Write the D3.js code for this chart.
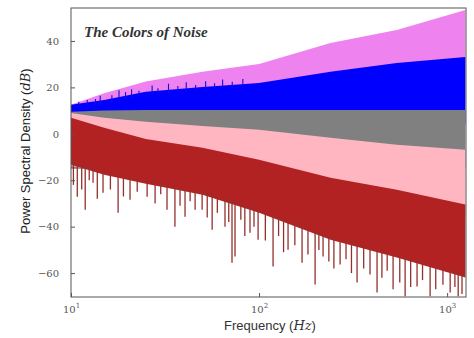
<!DOCTYPE html>
<html>
<head>
<meta charset="utf-8">
<script src="https://cdn.jsdelivr.net/npm/d3@7"></script>
<style>
  body { margin: 0; background: #fff; }
  svg { display: block; }
</style>
</head>
<body>
<svg width="474" height="338"></svg>
<script>
const freqs = [10, 15, 25, 50, 100, 240, 540, 1250];

// band edges in dB (bottom layer first)
const violetTop = [12.5, 17.5, 22.5, 26.7, 30.1, 39.1, 44.7, 53.3];
const violetBottom = [-8, -6, -4, -2, 0, 4, 8, 12];
const blueTop = [12.5, 14.6, 18.1, 20.2, 21.9, 26.7, 30.5, 33.1];
const blueBottom = [-8, -8, -6, -4, -2, 0, 2, 4];
const whiteTop = [9.5, 10, 10.3, 10.3, 10.3, 10.3, 10.3, 10.3];
const whiteBottom = [-15, -15, -15, -15, -15, -15, -15, -15];
const pinkTop = [9, 6.9, 5.2, 3.4, 1.7, -1.7, -4.7, -6.9];
const pinkBottom = [-14, -16, -18, -20, -22, -26, -30, -36];
const brownTop = [6.9, 2.6, -2.2, -6.0, -11.2, -18.9, -24.1, -30.5];
const brownBottom = [-13.3, -17.6, -21.5, -26.2, -34, -45.6, -53.3, -61.9];

// peaks of the blue spectrum poking above its band: frequency (Hz), level (dB)
const bluePeakFreq = [11, 12.2, 13.5, 14.3, 16.5, 18, 19.5, 21, 23, 27, 29, 33, 37, 41, 46, 52, 58, 64, 72, 82];
const bluePeakDb = [13.8, 14.6, 15, 16.4, 16.6, 18.8, 18, 19.2, 18.6, 20.8, 19.6, 21.6, 20.6, 22.2, 21, 22.6, 21.8, 23.4, 22.4, 23.6];

// deep dips of the brown spectrum: frequency (Hz) and level (dB)
const brownDipFreq = [10.3, 10.8, 11.4, 11.9, 12.5, 13.1, 13.8, 14.8, 16.2, 17.8, 19, 20.6, 22.5, 25.4, 28, 30,
  32.4, 35.7, 38, 40.4, 43, 45.7, 49.8, 53, 56.3, 60, 65.9, 69, 71.8, 74.5, 80, 84, 89.5, 94, 98.8, 108,
  118.7, 127, 135, 142.6, 155, 169.3, 182, 198.6, 208, 218.9, 235, 250, 269.7, 290, 310, 332, 360, 389,
  424, 450, 480, 516, 560, 598, 640, 692, 740, 812, 870, 950, 1038, 1100, 1145, 1200];
const brownDipDb = [-22, -27.1, -24, -32.7, -20, -21.1, -28, -25.4, -24, -34, -27, -28.4, -25, -27.1, -30, -26,
  -32.7, -40, -31, -35.7, -29, -32.7, -32.7, -36, -41.3, -34, -40, -38, -55.5, -52.9, -37, -44, -42.6, -40, -45.6, -46,
  -57.2, -44, -51, -49.9, -48, -55.5, -52, -64.9, -50, -52.9, -55, -58, -56.3, -54, -60, -64.1, -58, -60.6,
  -68.4, -62, -59, -67, -64, -70, -66, -65.8, -63, -70, -67, -65, -68.4, -66, -70, -69];

const yTicks = [40, 20, 0, -20, -40, -60];
const xTicks = [10, 100, 1000];

const svg = d3.select("svg");
const margin = {left: 71, right: 8, top: 8, bottom: 41};
const W = 474, H = 338;

const x = d3.scaleLog().domain([10, 1260]).range([margin.left, W - margin.right]);
const y = d3.scaleLinear().domain([-70.3, 54.2]).range([H - margin.bottom, margin.top]);

svg.append("clipPath").attr("id", "plot")
  .append("rect")
  .attr("x", margin.left).attr("y", margin.top)
  .attr("width", W - margin.left - margin.right)
  .attr("height", H - margin.top - margin.bottom);

const g = svg.append("g").attr("clip-path", "url(#plot)");

const bands = [
  {top: violetTop, bottom: violetBottom, color: "#ee82ee"},
  {top: blueTop, bottom: blueBottom, color: "#0000ff"},
  {top: whiteTop, bottom: whiteBottom, color: "#808080"},
  {top: pinkTop, bottom: pinkBottom, color: "#ffb6c1"},
  {top: brownTop, bottom: brownBottom, color: "#b22222"}
];

const area = d3.area()
  .x(d => x(d.f))
  .y0(d => y(d.lo))
  .y1(d => y(d.hi));

bands.forEach((b, k) => {
  const rows = freqs.map((f, i) => ({f: f, hi: b.top[i], lo: b.bottom[i]}));
  g.append("path")
    .datum(rows)
    .attr("d", area)
    .attr("fill", b.color);

  // blue peaks sit right after the blue band so the grey still covers them
  if (k === 1) {
    const blueEdge = d3.scaleLog().domain(freqs).range(blueTop);
    g.selectAll("line.peak")
      .data(bluePeakFreq.map((f, i) => ({f: f, db: bluePeakDb[i]})))
      .enter()
      .append("line")
      .attr("class", "peak")
      .attr("x1", d => x(d.f))
      .attr("x2", d => x(d.f))
      .attr("y1", d => y(blueEdge(d.f)) + 3)
      .attr("y2", d => y(d.db))
      .attr("stroke", "#1010e0")
      .attr("stroke-width", 1.1);
  }
});

// brown dips as thin vertical strokes below the dense band
const brownEdge = d3.scaleLog().domain(freqs).range(brownBottom);
g.selectAll("line.dip")
  .data(brownDipFreq.map((f, i) => ({f: f, db: brownDipDb[i]})))
  .enter()
  .append("line")
  .attr("class", "dip")
  .attr("x1", d => x(d.f))
  .attr("x2", d => x(d.f))
  .attr("y1", d => y(brownEdge(d.f)) - 4)
  .attr("y2", d => y(d.db))
  .attr("stroke", "#93302e")
  .attr("stroke-width", 1.3);

// frame
svg.append("rect")
  .attr("x", margin.left).attr("y", margin.top)
  .attr("width", W - margin.left - margin.right)
  .attr("height", H - margin.top - margin.bottom)
  .attr("fill", "none")
  .attr("stroke", "#555")
  .attr("stroke-width", 1);

// y ticks
const yAxis = d3.axisLeft(y).tickValues(yTicks).tickSize(-4).tickPadding(12)
  .tickFormat(d => d < 0 ? "\u2212" + Math.abs(d) : d);
const ya = svg.append("g").attr("transform", `translate(${margin.left},0)`).call(yAxis);
ya.select(".domain").remove();
ya.selectAll("line").attr("stroke", "#555");
ya.selectAll("text").attr("font-family", "'DejaVu Serif', serif").attr("font-size", 10).attr("fill", "#555");

// x ticks with powers of ten
const xAxis = d3.axisBottom(x).tickValues(xTicks).tickSize(-4).tickPadding(6).tickFormat("");
const xa = svg.append("g").attr("transform", `translate(0,${H - margin.bottom})`).call(xAxis);
xa.select(".domain").remove();
xa.selectAll("line").attr("stroke", "#555");
xa.selectAll(".tick").append("text")
  .attr("y", 16)
  .attr("text-anchor", "middle")
  .attr("font-family", "'DejaVu Serif', serif")
  .attr("font-size", 10)
  .attr("fill", "#555")
  .each(function(d) {
    const t = d3.select(this);
    t.append("tspan").text("10");
    t.append("tspan").attr("dy", -5).attr("font-size", 7).text(Math.round(Math.log10(d)));
  });

// axis labels
const xl = svg.append("text")
  .attr("x", 270).attr("y", 330)
  .attr("text-anchor", "middle")
  .attr("font-family", "'Liberation Sans', Arial, sans-serif")
  .attr("font-size", 13)
  .attr("fill", "#333");
xl.append("tspan").text("Frequency (");
xl.append("tspan").attr("font-family", "'DejaVu Serif', serif").attr("font-style", "italic").text("Hz");
xl.append("tspan").text(")");

const yl = svg.append("text")
  .attr("transform", "translate(30,151) rotate(-90)")
  .attr("text-anchor", "middle")
  .attr("font-family", "'Liberation Sans', Arial, sans-serif")
  .attr("font-size", 13)
  .attr("fill", "#222");
yl.append("tspan").text("Power Spectral Density (");
yl.append("tspan").attr("font-family", "'DejaVu Serif', serif").attr("font-style", "italic").text("dB");
yl.append("tspan").text(")");

// title inside the plot
svg.append("text")
  .attr("x", 84).attr("y", 37)
  .attr("font-family", "'Liberation Serif', serif")
  .attr("font-style", "italic")
  .attr("font-weight", "bold")
  .attr("font-size", 15)
  .attr("fill", "#333")
  .text("The Colors of Noise");
</script>
</body>
</html>
